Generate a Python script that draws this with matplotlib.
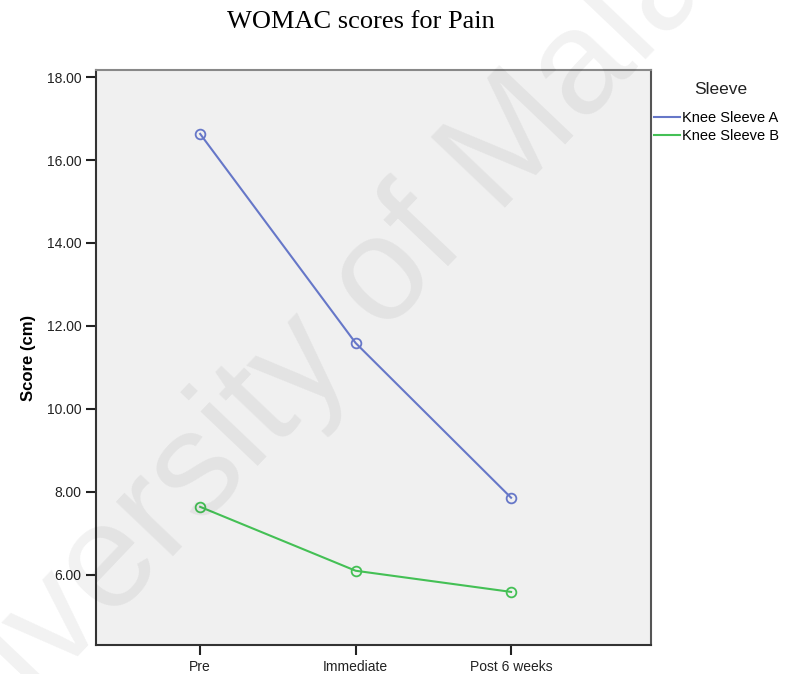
import numpy as np
import matplotlib.pyplot as plt

# data
time_points = ['Pre', 'Immediate', 'Post 6 weeks']
sleeve_a = [16.63, 11.59, 7.86]
sleeve_b = [7.64, 6.10, 5.59]
y_ticks = [6.0, 8.0, 10.0, 12.0, 14.0, 16.0, 18.0]

W, H = 785, 674
fig = plt.figure(figsize=(W / 100, H / 100), dpi=100)
ax = fig.add_axes([96 / W, 1 - 645 / H, (651 - 96) / W, (645 - 70) / H])
ax.set_facecolor('#f0f0f0')

x = np.arange(len(time_points))
ax.plot(x, sleeve_a, '-', color='#6677c8', linewidth=1.5, marker='o',
        markersize=7, markerfacecolor='none', markeredgewidth=1.3)
ax.plot(x, sleeve_b, '-', color='#44c055', linewidth=1.5, marker='o',
        markersize=7, markerfacecolor='none', markeredgewidth=1.3)

ax.set_xlim(-0.67, 2.9)
ax.set_ylim(4.31, 18.17)
ax.set_xticks(x)
ax.set_xticklabels(time_points)
ax.set_yticks(y_ticks)
ax.set_yticklabels([f'{v:.2f}' for v in y_ticks])
ax.tick_params(axis='both', direction='out', length=7, width=1.5,
               colors='#222222', labelsize=10, labelcolor='#222222')
for lbl in ax.get_xticklabels() + ax.get_yticklabels():
    lbl.set_family('Liberation Sans')

ax.spines['left'].set_color('#333333')
ax.spines['bottom'].set_color('#333333')
ax.spines['top'].set_color('#888888')
ax.spines['right'].set_color('#555555')
for s in ax.spines.values():
    s.set_linewidth(1.5)

ax.set_ylabel('Score (cm)', fontsize=12, fontweight='bold',
              family='Liberation Sans', labelpad=8)

fig.text(361 / W, 1 - 22 / H, 'WOMAC scores for Pain', ha='center', va='center',
         fontsize=19, family='Liberation Serif')

# legend (lines only, title indented like the original)
handles = [plt.Line2D([], [], color='#6677c8', linewidth=1.5),
           plt.Line2D([], [], color='#44c055', linewidth=1.5)]
fig.legend(handles, ['Knee Sleeve A', 'Knee Sleeve B'], loc='upper left',
           bbox_to_anchor=(654 / W, 1 - 111 / H), frameon=False,
           handlelength=1.8, handletextpad=0.15, labelspacing=0.25,
           borderaxespad=0, borderpad=0,
           prop={'family': 'Liberation Sans', 'size': 10.5})
fig.text(694 / W, 1 - 89 / H, 'Sleeve', ha='left', va='center',
         fontsize=12.5, family='Liberation Sans', color='#222222')

# watermark
fig.text(338 / W, 1 - 327 / H, 'University of Malaya', ha='center', va='center',
         rotation=46.4, fontsize=107, color='#000000', alpha=0.055,
         family='Liberation Sans', zorder=10)

fig.savefig('out.png', dpi=100)
